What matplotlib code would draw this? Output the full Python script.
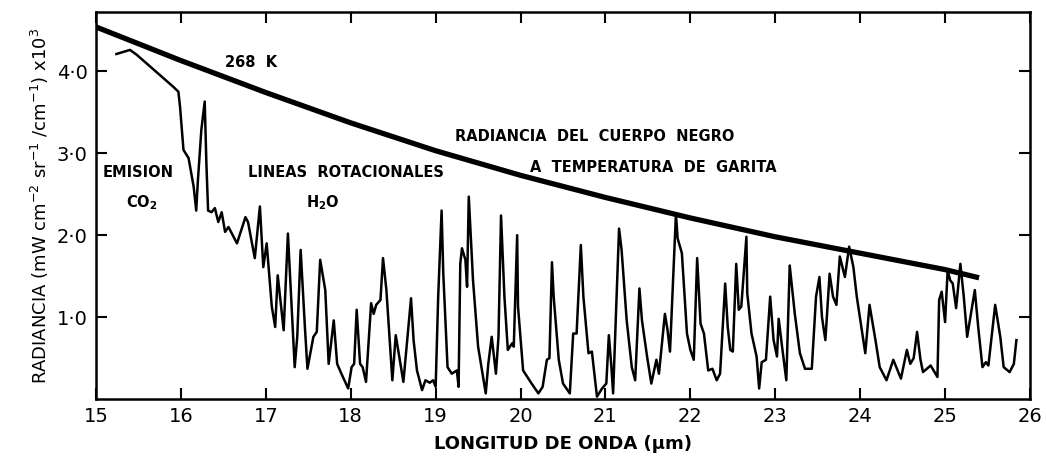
import matplotlib
matplotlib.use("Agg")
import matplotlib.pyplot as plt
from matplotlib.ticker import FixedLocator, FixedFormatter

plt.rcParams['font.family'] = ['DejaVu Sans']
plt.rcParams['mathtext.default'] = 'regular'

# Blackbody curve at 268 K
bb_wavelength = [15.0, 16.0, 17.0, 18.0, 19.0, 20.0, 21.0, 22.0, 23.0, 24.0, 25.0, 25.4]
bb_radiance = [4.54, 4.13, 3.74, 3.37, 3.03, 2.73, 2.46, 2.21, 1.98, 1.78, 1.58, 1.48]

# Measured sky spectrum
wavelength = [
    15.24, 15.40, 15.48, 15.91, 15.97, 15.99, 16.03, 16.09, 16.15, 16.18,
    16.20, 16.24, 16.28, 16.30, 16.32, 16.36, 16.40, 16.44, 16.48, 16.52,
    16.56, 16.66, 16.76, 16.79, 16.87, 16.93, 16.97, 17.01, 17.07, 17.11,
    17.14, 17.18, 17.21, 17.26, 17.34, 17.37, 17.41, 17.46, 17.49, 17.56,
    17.60, 17.64, 17.70, 17.74, 17.80, 17.84, 17.89, 17.97, 18.01, 18.04,
    18.07, 18.11, 18.14, 18.18, 18.24, 18.27, 18.30, 18.35, 18.38, 18.42,
    18.49, 18.53, 18.62, 18.71, 18.74, 18.78, 18.84, 18.88, 18.93, 18.97,
    19.00, 19.03, 19.07, 19.09, 19.14, 19.19, 19.25, 19.27, 19.29, 19.31,
    19.35, 19.37, 19.39, 19.42, 19.44, 19.50, 19.54, 19.59, 19.62, 19.66,
    19.71, 19.74, 19.77, 19.81, 19.85, 19.90, 19.92, 19.96, 19.97, 20.03,
    20.13, 20.21, 20.26, 20.31, 20.34, 20.37, 20.39, 20.45, 20.50, 20.58,
    20.62, 20.66, 20.71, 20.74, 20.80, 20.84, 20.90, 20.96, 21.01, 21.04,
    21.07, 21.09, 21.16, 21.19, 21.25, 21.31, 21.35, 21.40, 21.43, 21.49,
    21.54, 21.60, 21.63, 21.70, 21.73, 21.76, 21.80, 21.83, 21.85, 21.90,
    21.96, 22.00, 22.04, 22.08, 22.12, 22.16, 22.21, 22.26, 22.31, 22.35,
    22.39, 22.41, 22.44, 22.47, 22.50, 22.54, 22.57, 22.60, 22.66, 22.67,
    22.72, 22.78, 22.81, 22.84, 22.89, 22.94, 22.98, 23.02, 23.04, 23.08,
    23.13, 23.17, 23.23, 23.29, 23.35, 23.43, 23.48, 23.52, 23.55, 23.59,
    23.64, 23.68, 23.72, 23.76, 23.82, 23.87, 23.92, 23.96, 24.02, 24.06,
    24.11, 24.18, 24.23, 24.31, 24.39, 24.48, 24.55, 24.59, 24.63, 24.67,
    24.71, 24.74, 24.83, 24.91, 24.93, 24.96, 25.00, 25.03, 25.06, 25.09,
    25.13, 25.18, 25.22, 25.26, 25.35, 25.39, 25.44, 25.48, 25.51, 25.59,
    25.65, 25.69, 25.76, 25.81, 25.84,
]
radiance = [
    4.21, 4.26, 4.20, 3.81, 3.75, 3.56, 3.04, 2.94, 2.59, 2.30,
    2.67, 3.28, 3.63, 2.87, 2.30, 2.28, 2.33, 2.16, 2.28, 2.04,
    2.10, 1.90, 2.22, 2.16, 1.72, 2.35, 1.61, 1.90, 1.13, 0.88,
    1.51, 1.13, 0.84, 2.02, 0.39, 0.76, 1.82, 0.88, 0.37, 0.76,
    0.82, 1.70, 1.33, 0.43, 0.96, 0.43, 0.31, 0.13, 0.39, 0.43,
    1.09, 0.43, 0.39, 0.21, 1.17, 1.04, 1.15, 1.21, 1.72, 1.33,
    0.23, 0.78, 0.21, 1.23, 0.72, 0.35, 0.11, 0.23, 0.20, 0.23,
    0.15, 1.25, 2.30, 1.53, 0.39, 0.31, 0.35, 0.15, 1.65, 1.84,
    1.70, 1.37, 2.47, 1.86, 1.45, 0.64, 0.39, 0.07, 0.43, 0.76,
    0.31, 0.76, 2.24, 1.25, 0.60, 0.68, 0.64, 2.00, 1.13, 0.35,
    0.19, 0.07, 0.15, 0.48, 0.50, 1.67, 1.25, 0.48, 0.19, 0.07,
    0.80, 0.80, 1.88, 1.25, 0.56, 0.58, 0.03, 0.13, 0.19, 0.78,
    0.39, 0.07, 2.08, 1.82, 0.96, 0.39, 0.23, 1.35, 0.96, 0.52,
    0.19, 0.48, 0.31, 1.04, 0.85, 0.58, 1.53, 2.26, 1.96, 1.78,
    0.80, 0.60, 0.48, 1.72, 0.92, 0.80, 0.35, 0.37, 0.23, 0.31,
    1.04, 1.41, 0.88, 0.60, 0.58, 1.65, 1.09, 1.13, 1.98, 1.29,
    0.80, 0.52, 0.13, 0.45, 0.48, 1.25, 0.72, 0.52, 0.98, 0.64,
    0.23, 1.63, 1.04, 0.56, 0.37, 0.37, 1.25, 1.49, 1.00, 0.72,
    1.53, 1.25, 1.15, 1.74, 1.49, 1.86, 1.61, 1.25, 0.84, 0.56,
    1.15, 0.72, 0.39, 0.23, 0.48, 0.25, 0.60, 0.43, 0.50, 0.82,
    0.48, 0.33, 0.41, 0.27, 1.21, 1.31, 0.94, 1.57, 1.45, 1.41,
    1.11, 1.65, 1.25, 0.76, 1.33, 0.88, 0.39, 0.45, 0.41, 1.15,
    0.76, 0.39, 0.33, 0.43, 0.72,
]

x_ticks = [15, 16, 17, 18, 19, 20, 21, 22, 23, 24, 25, 26]
y_ticks = [1.0, 2.0, 3.0, 4.0]
y_tick_labels = ['1·0', '2·0', '3·0', '4·0']

fig = plt.figure(figsize=(10.46, 4.69), dpi=100)
ax = fig.add_axes([0.0918, 0.149, 0.8929, 0.825])

ax.plot(bb_wavelength, bb_radiance, color='black', linewidth=3.8, solid_capstyle='butt')
ax.plot(wavelength, radiance, color='black', linewidth=1.8)

ax.set_xlim(15, 26)
ax.set_ylim(0, 4.72)
ax.xaxis.set_major_locator(FixedLocator(x_ticks))
ax.yaxis.set_major_locator(FixedLocator(y_ticks))
ax.yaxis.set_major_formatter(FixedFormatter(y_tick_labels))
ax.tick_params(direction='in', length=8, width=1.5, top=True, right=True,
               labelsize=14, pad=6)
for s in ax.spines.values():
    s.set_linewidth(1.8)

ax.set_xlabel('LONGITUD DE ONDA (µm)', fontsize=13, fontweight='bold', labelpad=6)
ax.set_ylabel('RADIANCIA (mW cm$^{-2}$ sr$^{-1}$ /cm$^{-1}$) x10$^{3}$', fontsize=13,
              labelpad=4)

# annotations
kw = dict(fontsize=10.5, fontweight='bold', color='black')
ax.text(16.83, 4.11, '268  K', ha='center', va='center', **kw)
ax.text(19.23, 3.20, 'RADIANCIA  DEL  CUERPO  NEGRO', ha='left', va='center', **kw)
ax.text(20.11, 2.82, 'A  TEMPERATURA  DE  GARITA', ha='left', va='center', **kw)
ax.text(15.08, 2.77, 'EMISION', ha='left', va='center', **kw)
ax.text(15.54, 2.40, 'CO$_2$', ha='center', va='center', **kw)
ax.text(16.79, 2.77, 'LINEAS  ROTACIONALES', ha='left', va='center', **kw)
ax.text(17.67, 2.40, 'H$_2$O', ha='center', va='center', **kw)

plt.savefig('out.png', dpi=100)
